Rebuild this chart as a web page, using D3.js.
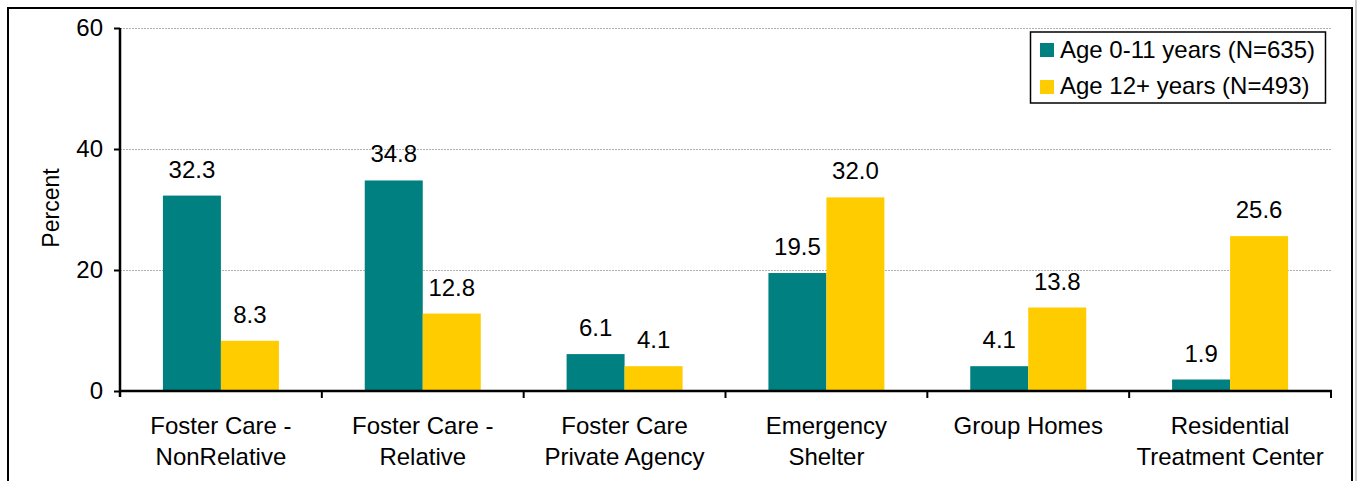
<!DOCTYPE html>
<html><head><meta charset="utf-8">
<script src="https://cdn.jsdelivr.net/npm/d3@7"></script>
<style>
html,body{margin:0;padding:0;background:#fff;}
svg{display:block;font-family:"Liberation Sans",Arial,sans-serif;}
</style></head>
<body>
<svg id="c" width="1357" height="481"></svg>
<script>
const categories = [["Foster Care -","NonRelative"],["Foster Care -","Relative"],["Foster Care","Private Agency"],["Emergency","Shelter"],["Group Homes"],["Residential","Treatment Center"]];
const seriesNames = ["Age 0-11 years (N=635)","Age 12+ years (N=493)"];
const young = [32.3, 34.8, 6.1, 19.5, 4.1, 1.9];
const older = [8.3, 12.8, 4.1, 32.0, 13.8, 25.6];
const yTicks = [0, 20, 40, 60];
const colors = ["#008080", "#FFCC00"];

const svg = d3.select("#c");
// outer frame
svg.append("line").attr("x1",8).attr("x2",8).attr("y1",7).attr("y2",481).attr("stroke","#000").attr("stroke-width",2);
svg.append("line").attr("x1",7).attr("x2",1353).attr("y1",8).attr("y2",8).attr("stroke","#000").attr("stroke-width",2);
svg.append("line").attr("x1",1352).attr("x2",1352).attr("y1",7).attr("y2",481).attr("stroke","#000").attr("stroke-width",2);
svg.append("line").attr("x1",1356).attr("x2",1356).attr("y1",0).attr("y2",481).attr("stroke","#999").attr("stroke-width",1);

const x0 = 120, x1 = 1331, yTop = 28, yBot = 391;
const idx = d3.range(categories.length);
const x = d3.scaleBand().domain(idx).range([x0, x1]).paddingInner(0).paddingOuter(0);
const y = d3.scaleLinear().domain([0, 60]).range([yBot, yTop]);
const inner = d3.scaleBand().domain([0,1]).range([0, x.bandwidth()]).paddingOuter(0.74).paddingInner(0);

// gridlines
svg.append("g").selectAll("line").data(yTicks.filter(d=>d>0)).join("line")
  .attr("x1", x0).attr("x2", x1).attr("y1", d=>Math.round(y(d))+0.5).attr("y2", d=>Math.round(y(d))+0.5)
  .attr("stroke", "#b0b0b0").attr("stroke-width", 1).attr("stroke-dasharray", "2,1");

// bars
const data = idx.map(i => [young[i], older[i]]);
const g = svg.append("g");
idx.forEach(i => {
  data[i].forEach((v, s) => {
    const bx = x(i) + inner(s);
    g.append("rect").attr("x", bx).attr("y", y(v)).attr("width", inner.bandwidth()).attr("height", y(0) - y(v)).attr("fill", colors[s]);
    g.append("text").attr("x", bx + inner.bandwidth()/2).attr("y", y(v) - 18)
      .attr("text-anchor", "middle").attr("font-size", 24).attr("fill", "#000").text(v.toFixed(1));
  });
});

// y axis
const yAxis = d3.axisLeft(y).tickValues(yTicks).tickSize(6).tickPadding(11).tickFormat(d3.format("d"));
const ya = svg.append("g").attr("transform", `translate(${x0},0)`).call(yAxis);
ya.select(".domain").remove();
ya.selectAll(".tick line").attr("stroke", "#000").attr("stroke-width", 2);
ya.selectAll("text").attr("font-size", 24).attr("font-family", "Liberation Sans, Arial, sans-serif").attr("fill", "#000");
svg.append("line").attr("x1", x0).attr("x2", x0).attr("y1", yTop).attr("y2", yBot + 6).attr("stroke", "#000").attr("stroke-width", 2.5);

// x axis
svg.append("line").attr("x1", x0).attr("x2", x1 + 1).attr("y1", yBot).attr("y2", yBot).attr("stroke", "#000").attr("stroke-width", 2.5);
svg.append("g").selectAll("line").data(d3.range(1, categories.length + 1)).join("line")
  .attr("x1", d => x0 + d * x.step()).attr("x2", d => x0 + d * x.step())
  .attr("y1", yBot).attr("y2", yBot + 7).attr("stroke", "#000").attr("stroke-width", 2);
const cl = svg.append("g");
idx.forEach(i => {
  const t = cl.append("text").attr("text-anchor", "middle").attr("font-size", 24).attr("fill", "#000");
  categories[i].forEach((line, k) => {
    t.append("tspan").attr("x", x(i) + x.bandwidth()/2).attr("y", 434 + k * 31).text(line);
  });
});

// y title
svg.append("text").attr("transform", "translate(59,208) rotate(-90)").attr("text-anchor", "middle")
  .attr("font-size", 23).attr("fill", "#000").text("Percent");

// legend
const lg = svg.append("g");
lg.append("rect").attr("x", 1030.5).attr("y", 32).attr("width", 295).attr("height", 71)
  .attr("fill", "#fff").attr("stroke", "#000").attr("stroke-width", 1.5);
seriesNames.forEach((n, s) => {
  lg.append("rect").attr("x", 1040).attr("y", 43 + s * 37).attr("width", 14).attr("height", 14).attr("fill", colors[s]);
  lg.append("text").attr("x", 1060).attr("y", 58 + s * 36).attr("font-size", 24).attr("fill", "#000").text(n);
});
</script>
</body></html>
